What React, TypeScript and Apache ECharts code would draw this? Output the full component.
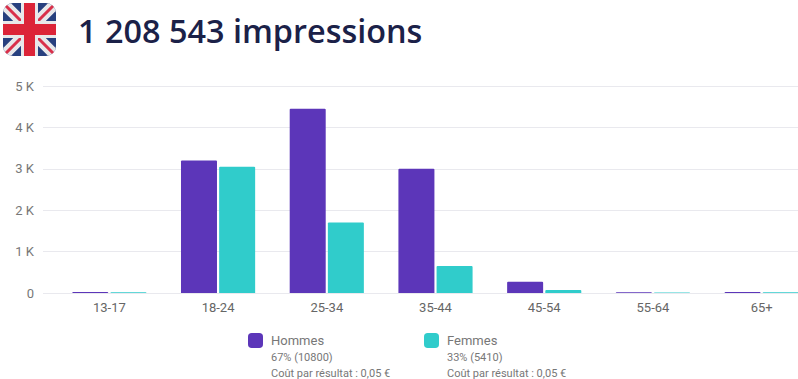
import React, { useEffect, useRef } from "react";
import * as echarts from "echarts";

const categories = ["13-17", "18-24", "25-34", "35-44", "45-54", "55-64", "65+"];
const hommes = [25, 3200, 4450, 3000, 270, 20, 25];
const femmes = [20, 3050, 1700, 650, 70, 15, 20];
const yTicks: Record<number, string> = { 0: "0", 1000: "1 K", 2000: "2 K", 3000: "3 K", 4000: "4 K", 5000: "5 K" };
const title = "1 208 543 impressions";
const hommesLines = ["67% (10800)", "Coût par résultat : 0,05 €"];
const femmesLines = ["33% (5410)", "Coût par résultat : 0,05 €"];

const PURPLE = "#5c36b9";
const TEAL = "#30cccb";
const GRID = "#e9e9ee";
const FONT = "Roboto";

const flag =
  '<svg xmlns="http://www.w3.org/2000/svg" width="53" height="53" viewBox="0 0 53 53">' +
  '<defs><clipPath id="c"><rect width="53" height="53" rx="10"/></clipPath></defs>' +
  '<g clip-path="url(#c)"><rect width="53" height="53" fill="#27407f"/>' +
  '<path d="M0 0L53 53M53 0L0 53" stroke="#e8e8ea" stroke-width="11"/>' +
  '<path d="M0 0L53 53M53 0L0 53" stroke="#d9304a" stroke-width="3"/>' +
  '<path d="M26.5 0V53M0 26.5H53" stroke="#e8e8ea" stroke-width="17"/>' +
  '<path d="M26.5 0V53M0 26.5H53" stroke="#dc2438" stroke-width="11"/></g></svg>';

function subText(x: number, y: number, text: string) {
  return {
    type: "text",
    x,
    y,
    style: { text, fill: "#777", font: `11px ${FONT}`, textVerticalAlign: "middle" },
  };
}

export default function App() {
  const ref = useRef<HTMLDivElement>(null);
  useEffect(() => {
    document.body.style.margin = "0";
    const chart = echarts.init(ref.current!, undefined, { renderer: "svg" });
    chart.setOption({
      animation: false,
      grid: { left: 55, right: -18, top: 86, bottom: 86, outerBoundsMode: "none" },
      xAxis: {
        type: "category",
        data: categories,
        axisLine: { lineStyle: { color: GRID, width: 1 } },
        axisTick: { show: false },
        axisLabel: { color: "#666", fontFamily: FONT, fontSize: 13, margin: 8 },
      },
      yAxis: {
        type: "value",
        min: 0,
        max: 5000,
        interval: 1000,
        axisLine: { show: false },
        axisTick: { show: true, length: 12, lineStyle: { color: GRID, width: 1 } },
        splitLine: { lineStyle: { color: GRID, width: 1 } },
        axisLabel: {
          color: "#777",
          fontFamily: FONT,
          fontSize: 13,
          margin: 21,
          formatter: (v: number) => yTicks[v],
        },
      },
      legend: [
        {
          data: ["Hommes"],
          left: 248,
          top: 333,
          padding: 0,
          itemWidth: 15,
          itemHeight: 15,
          icon: "roundRect",
          selectedMode: false,
          textStyle: { color: "#777", fontFamily: FONT, fontSize: 13, padding: [0, 0, 0, 3] },
        },
        {
          data: ["Femmes"],
          left: 424,
          top: 333,
          padding: 0,
          itemWidth: 15,
          itemHeight: 15,
          icon: "roundRect",
          selectedMode: false,
          textStyle: { color: "#777", fontFamily: FONT, fontSize: 13, padding: [0, 0, 0, 3] },
        },
      ],
      series: [
        {
          name: "Hommes",
          type: "bar",
          data: hommes,
          barWidth: 36,
          barGap: "6%",
          itemStyle: { color: PURPLE, borderRadius: [1, 1, 0, 0] },
        },
        {
          name: "Femmes",
          type: "bar",
          data: femmes,
          barWidth: 36,
          itemStyle: { color: TEAL, borderRadius: [1, 1, 0, 0] },
        },
      ],
      graphic: [
        {
          type: "image",
          x: 3,
          y: 3,
          style: { image: "data:image/svg+xml;utf8," + encodeURIComponent(flag), width: 53, height: 53 },
        },
        {
          type: "text",
          x: 78,
          y: 30,
          style: { text: title, fill: "#1b2148", font: `600 32.4px "Open Sans"`, textVerticalAlign: "middle" },
        },
        subText(271, 357, hommesLines[0]),
        subText(271, 373, hommesLines[1]),
        subText(447, 357, femmesLines[0]),
        subText(447, 373, femmesLines[1]),
      ],
    });
    return () => chart.dispose();
  }, []);
  return <div ref={ref} style={{ width: 798, height: 379 }} />;
}
